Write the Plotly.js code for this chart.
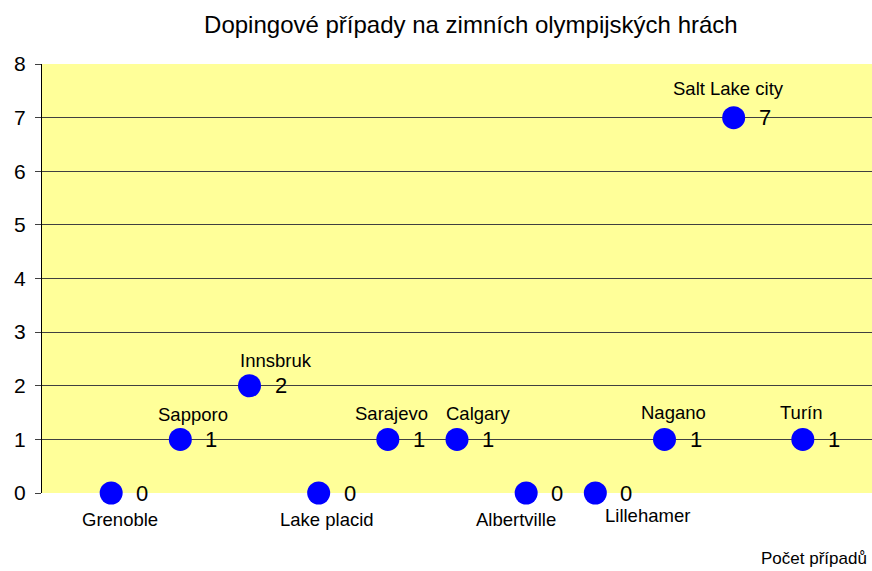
<!DOCTYPE html>
<html><head><meta charset="utf-8">
<script src="https://cdn.plot.ly/plotly-3.0.1.min.js"></script>
<style>body{margin:0}#c{width:872px;height:571px}</style>
</head><body><div id="c"></div>
<script>
var cities = ["Grenoble","Sapporo","Innsbruk","Lake placid","Sarajevo","Calgary","Albertville","Lillehamer","Nagano","Salt Lake city","Turín"];
var cases = [0,1,2,0,1,1,0,0,1,7,1];
var seriesName = "Počet případů";
var yTicks = [0,1,2,3,4,5,6,7,8];
// label placement (pixel offsets of each city label from its point)
var labelDx = [9, 13, 26, 8, 4, 21, -10, 52, 9, -5, -1];
var labelDy = [-26, 25, 25, -26, 26, 26, -26, -22, 27, 29, 27];

var xs = cities.map(function(_, i){ return i + 1; });
var font = "Liberation Sans, Arial, sans-serif";

var ann = [];
xs.forEach(function(x, i){
  ann.push({x: x, y: cases[i], xref:'x', yref:'y', text: cities[i], showarrow:false,
            xshift: labelDx[i], yshift: labelDy[i],
            font:{family:font, size:18.5, color:'#000'}});
  ann.push({x: x, y: cases[i], xref:'x', yref:'y', text: String(cases[i]), showarrow:false,
            xshift: 31, font:{family:font, size:22, color:'#000'}});
});
ann.push({x:1, y:0, xref:'paper', yref:'paper', xanchor:'right', yanchor:'top', yshift:-54, xshift:-3,
          text: seriesName, showarrow:false, font:{family:font, size:17, color:'#000'}});

Plotly.newPlot('c', [{
  x: xs, y: cases, type:'scatter', mode:'markers', name: seriesName,
  marker:{color:'#0000FF', size:23, line:{width:0}}, cliponaxis:false, hoverinfo:'none'
}], {
  width:872, height:571,
  margin:{l:42, r:0, t:64, b:78, pad:0},
  paper_bgcolor:'#FFFFFF', plot_bgcolor:'#FFFF99',
  showlegend:false,
  title:{text:'Dopingové případy na zimních olympijských hrách', x:0.54, xanchor:'center', y:0.957, yanchor:'middle',
         font:{family:font, size:24, color:'#000'}},
  xaxis:{range:[0,12], showgrid:false, zeroline:false, showticklabels:false, ticks:'', showline:false, fixedrange:true},
  yaxis:{range:[0,8], tickvals:yTicks, ticktext:yTicks.map(String), showgrid:true, gridcolor:'#404040', gridwidth:1,
         zeroline:false, showline:true, linecolor:'#000', linewidth:1, ticks:'outside', ticklen:6, tickcolor:'#404040',
         tickfont:{family:font, size:21, color:'#000'}, ticklabelstandoff:5, fixedrange:true},
  annotations: ann
}, {staticPlot:true});
</script></body></html>
